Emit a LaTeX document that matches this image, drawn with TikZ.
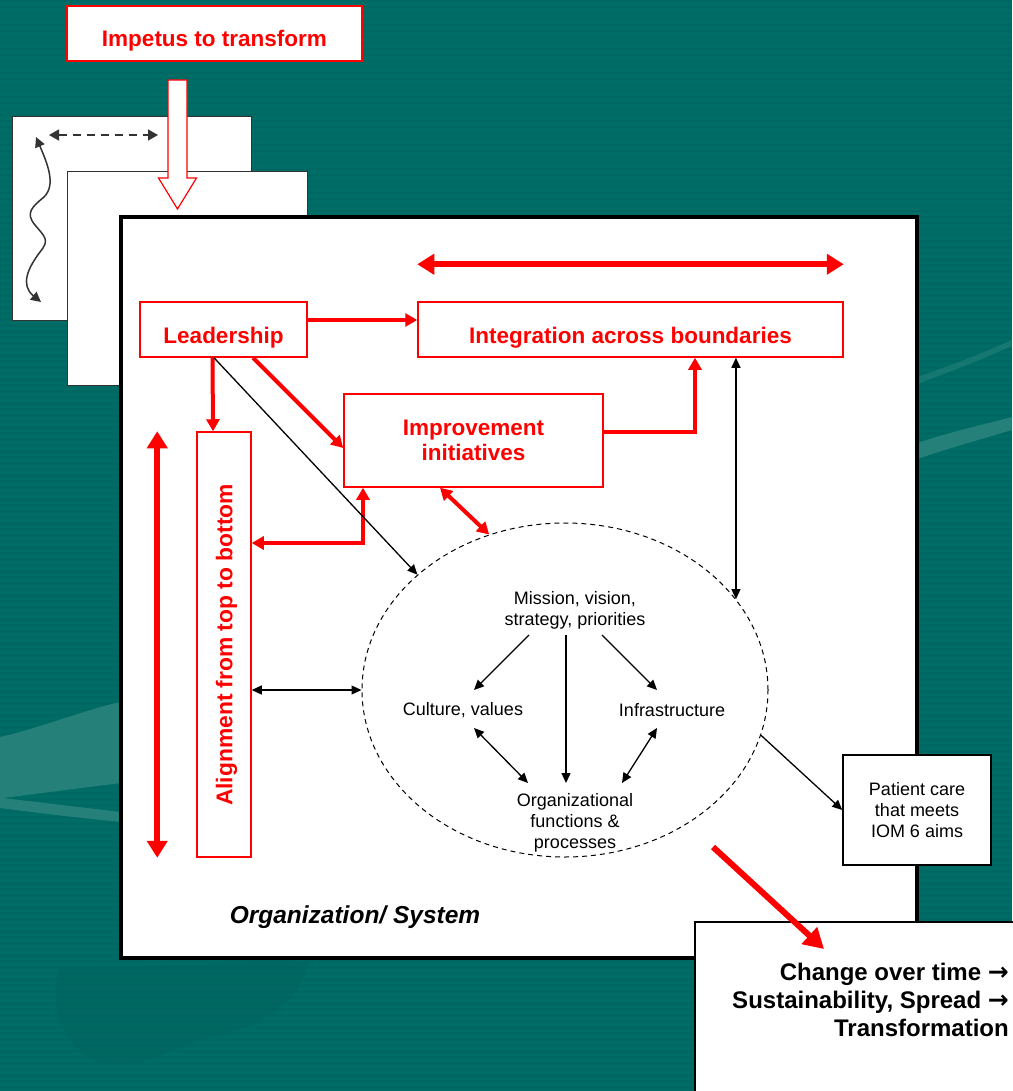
\documentclass[tikz,border=0pt]{standalone}
\usepackage{fontspec}
\setmainfont{Liberation Sans}
\newfontfamily\djv{DejaVu Sans}
\usetikzlibrary{arrows.meta,shapes.geometric}
\definecolor{teal0}{RGB}{0,108,102}
\definecolor{tealL}{RGB}{36,128,121}
\definecolor{tealD}{RGB}{0,101,96}
\definecolor{pred}{RGB}{255,0,0}
\definecolor{dgray}{RGB}{51,51,51}
\newcommand{\bigarr}{{\djv\bfseries\fontsize{25}{28}\selectfont →}}
\begin{document}
\begin{tikzpicture}[x=1pt,y=-1pt,
  redbox/.style={draw=pred, line width=1.5pt, fill=white, text=pred,
    font=\fontsize{22.5}{26}\selectfont\bfseries, inner sep=0pt, align=center},
  lowtext/.style={text height=31pt, text depth=4pt},
  redarr/.style={draw=pred, line width=4pt, -{Triangle[length=12pt,width=13pt]}},
  redarrb/.style={draw=pred, line width=4pt,
    {Triangle[length=12pt,width=13pt]}-{Triangle[length=12pt,width=13pt]}},
  bigred/.style={draw=pred, line width=6pt,
    {Triangle[length=17pt,width=20pt]}-{Triangle[length=17pt,width=20pt]}},
  blkarr/.style={draw=black, line width=1.3pt, -{Triangle[length=10pt,width=9pt]}},
  blkarrb/.style={draw=black, line width=1.3pt,
    {Triangle[length=10pt,width=9pt]}-{Triangle[length=10pt,width=9pt]}},
  smalltxt/.style={font=\fontsize{18}{21}\selectfont, align=center, inner sep=0pt},
  backrect/.style={draw=dgray, line width=1pt, fill=white},
]
\useasboundingbox (0,0) rectangle (1012,1091);
% background
\fill[teal0] (0,0) rectangle (1012,1091);
\foreach \yy in {0,6,...,1090} {\fill[tealD, opacity=.5] (0,\yy) rectangle (1012,\yy+2.5);}
\fill[tealL] (0,737) .. controls (40,728) and (90,708) .. (121,702) -- (121,783)
  -- (3,798) -- (121,812) -- (121,822) .. controls (80,818) and (30,812) .. (0,808) -- cycle;
\fill[tealL] (917,443) .. controls (950,432) and (985,424) .. (1012,417) -- (1012,430)
  .. controls (985,438) and (950,448) .. (917,459) -- cycle;
\fill[tealL, opacity=.6] (917,377) .. controls (950,366) and (985,352) .. (1012,340) -- (1012,346)
  .. controls (985,358) and (950,372) .. (917,384) -- cycle;
\fill[tealD, opacity=.7] (60,968) .. controls (45,1010) and (70,1060) .. (110,1064)
  .. controls (150,1068) and (175,1045) .. (215,1036) .. controls (260,1025) and (300,1005) .. (308,962) -- cycle;

% back sheets
\draw[backrect] (12,117) rectangle (251,320);
\draw[backrect] (67,172) rectangle (307,385);
\draw[dgray, line width=1.5pt, dash pattern=on 8pt off 6pt,
  {Triangle[length=10pt,width=11pt]}-{Triangle[length=10pt,width=11pt]}] (49,135) -- (158,135);
\draw[dgray, line width=1.5pt,
  {Triangle[length=10pt,width=10pt]}-{Triangle[length=10pt,width=10pt]}]
  (36,137) .. controls (48,165) and (56,185) .. (44,197)
  .. controls (32,207) and (25,213) .. (35,225)
  .. controls (45,237) and (50,240) .. (40,252)
  .. controls (28,268) and (20,285) .. (41,302);

% impetus block arrow
\draw[pred, line width=1.2pt, fill=white]
  (168,80) -- (187,80) -- (187,178) -- (196.5,178) -- (177.5,209) -- (158.5,178) -- (168,178) -- cycle;
\node[redbox, lowtext, minimum width=295, minimum height=55] (imp) at (214.5,33.5) {Impetus to transform};

% main organization box
\draw[black, line width=4pt, fill=white] (121,217) rectangle (917,958);

\node[redbox, lowtext, minimum width=167, minimum height=55] (lead) at (223.5,329.5) {Leadership};
\node[redbox, lowtext, minimum width=425, minimum height=55] (integ) at (630.5,329.5) {Integration across boundaries};
\node[redbox, minimum width=259, minimum height=93] (impr) at (473.5,440.5) {Improvement\\[-1pt]initiatives};
\node[redbox, minimum width=54, minimum height=425] (align) at (224,644.5) {};
\node[rotate=90, text=pred, font=\fontsize{22.8}{26}\selectfont\bfseries, inner sep=0pt] (aligntxt) at (226.5,645) {Alignment from top to bottom};

\node[draw, dashed, dash pattern=on 5pt off 4pt, line width=1pt, ellipse,
  minimum width=406, minimum height=334, inner sep=0pt] (org) at (565,690) {};
\node[smalltxt] (mis) at (575,610) {Mission, vision,\\strategy, priorities};
\node[smalltxt] (cul) at (463,710) {Culture, values};
\node[smalltxt] (inf) at (672,710) {Infrastructure};
\node[smalltxt] (orgt) at (575,823) {Organizational\\functions \&\\processes};

\node[font=\fontsize{24.5}{28}\selectfont\bfseries\itshape, inner sep=0pt] (orgsys) at (355,917) {Organization/ System};

\node[draw, line width=1.5pt, fill=white, minimum width=148, minimum height=110,
  smalltxt] (pat) at (917,810) {Patient care\\that meets\\IOM 6 aims};

% change box
\draw[black, line width=1.5pt, fill=white] (695,922) rectangle (1030,1100);
\node[anchor=north east, align=right, inner sep=0pt,
  font=\fontsize{24}{28}\selectfont\bfseries] (chg) at (1009,963)
  {Change over time \bigarr\\Sustainability, Spread \bigarr\\Transformation};

% red connectors
\draw[redarr] ([shift={(0,-9.5)}]lead.east) -- ([shift={(0,-9.5)}]integ.west);
\draw[redarr] ([shift={(-11,0)}]lead.south) -- ([shift={(-11,0)}]align.north);
\draw[redarr] ([shift={(29.5,0)}]lead.south) -- ([shift={(0,7.5)}]impr.west);
\draw[redarr] ([shift={(0,-8.5)}]impr.east) -| ([shift={(64.5,0)}]integ.south);
\draw[redarrb] ([shift={(-110.5,0)}]impr.south) |- ([shift={(0,-101.5)}]align.east);
\draw[redarrb] ([shift={(-33.5,0)}]impr.south) -- (org.116.7);
\draw[bigred] ([shift={(0,-37)}]integ.north west) -- ([shift={(0,-37)}]integ.north east);
\draw[bigred] ([shift={(-39,0)}]align.north west) -- ([shift={(-39,0)}]align.south west);

% black connectors
\draw[blkarr] ([shift={(-9.5,0)}]lead.south) -- (org.142.9);
\draw[blkarrb] (org.28.7 |- integ.south) -- (org.28.7);
\draw[blkarrb] (align.east |- org.west) -- (org.west);
\draw[blkarr] (org.-13) -- (pat.west);

% inner arrows
\draw[blkarr] ([shift={(-46,25)}]mis.center) -- ([shift={(11,-20)}]cul.center);
\draw[blkarr] ([shift={(-9,25)}]mis.center) -- ([shift={(-9,-40)}]orgt.center);
\draw[blkarr] ([shift={(27,25)}]mis.center) -- ([shift={(-15,-20)}]inf.center);
\draw[blkarrb] ([shift={(11,18)}]cul.center) -- ([shift={(-47,-40)}]orgt.center);
\draw[blkarrb] ([shift={(-15,18)}]inf.center) -- ([shift={(47,-40)}]orgt.center);

% change arrow
\coordinate (cs) at (713,847);
\coordinate (ce) at (824,949);
\draw[draw=pred, line width=6pt, -{Triangle[length=20pt,width=22pt]}] (cs) -- (ce);
\end{tikzpicture}
\end{document}
